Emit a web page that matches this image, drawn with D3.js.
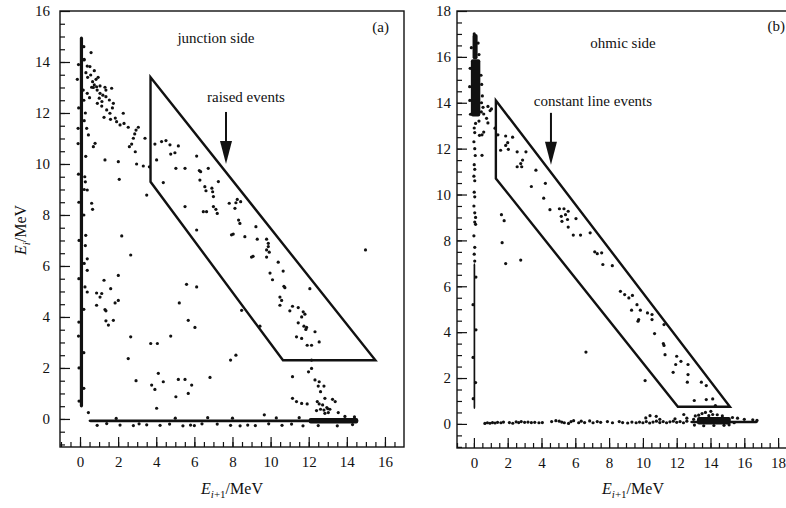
<!DOCTYPE html>
<html>
<head>
<meta charset="utf-8">
<script src="https://cdn.jsdelivr.net/npm/d3@7"></script>
<style>
  body { margin: 0; background: #fff; }
  svg text { font-family: "Liberation Serif", "Times New Roman", Times, serif; fill: #111; }
</style>
</head>
<body>
<script>
var width = 786;
var height = 508;

// ---- panel (a) data : junction side ----
var xTicksA = [0, 2, 4, 6, 8, 10, 12, 14, 16];
var yTicksA = [0, 2, 4, 6, 8, 10, 12, 14, 16];
// dense parts of the scatter (x0, x1, y0, y1)
var bandsA = [
  [-0.01, 0.16, 0.45, 15.0],
  [0.45, 14.6, -0.13, -0.02],
  [12.0, 14.6, -0.18, 0.04]
];
var pointsA = [
  [0.58,14.37],[0.21,14.08],[0.38,13.84],[0.52,13.82],[0.75,13.66],[0.31,13.58],[0.56,13.49],[0.40,13.40],
  [0.84,13.32],[0.66,13.23],[0.75,13.10],[0.87,13.03],[0.61,13.01],[0.17,12.90],[0.38,12.77],[1.05,13.06],
  [1.31,13.01],[1.05,12.77],[1.01,12.58],[0.91,12.38],[1.14,12.27],[1.36,12.90],[1.66,12.97],[1.36,12.64],
  [1.54,12.51],[1.75,12.38],[1.40,12.12],[1.57,11.99],[1.26,11.83],[1.92,11.66],[2.27,11.99],[2.10,11.53],
  [2.31,11.59],[2.53,11.44],[2.94,11.33],[3.06,11.44],[2.87,11.18],[2.80,11.01],[3.41,11.01],[2.59,10.68],
  [2.71,10.78],[2.90,10.48],[2.97,10.0],[3.32,9.92],[3.64,9.89],[2.01,10.09],[2.06,9.40],[1.31,10.16],
  [3.50,8.78],[0.79,10.81],[0.70,10.68],[0.44,11.14],[0.35,11.4],[0.38,8.98],[0.61,8.46],[0.66,8.22],
  [2.19,7.18],[2.66,6.43],[14.98,6.63],
  [0.95,13.4],[0.7,13.0],[0.9,12.9],[1.2,12.7],[1.15,12.45],[0.5,12.6],[1.7,12.2],[1.85,11.8],[1.6,11.75],
  [-0.14,13.32],[-0.1,11.4],[-0.1,10.8],[-0.08,3.25],[0.28,9.3],[0.25,9.5],[0.3,7.2],[0.28,6.8],[0.3,10.3],[0.28,12.0],
  [0.2,14.6],[0.22,14.1],[-0.08,13.9],[0.2,12.5],[-0.07,12.2],[0.22,11.7],[-0.08,9.6],[0.22,9.0],[-0.06,8.5],
  [0.2,8.0],[-0.05,7.0],[0.22,6.1],[-0.06,5.5],[0.2,4.3],[-0.06,3.8],[0.2,2.6],[-0.05,2.0],[0.2,1.2],[-0.05,0.7],
  [3.93,10.78],[4.28,10.88],[4.51,10.92],[4.72,10.75],[4.76,10.39],[4.98,10.44],[5.16,10.71],[4.02,10.16],
  [5.03,9.83],[5.51,9.83],[6.12,10.31],[6.26,9.74],[6.33,9.70],[6.73,9.83],[6.29,9.37],[7.26,9.31],
  [4.37,9.27],[6.55,9.11],[6.61,8.95],[6.92,9.05],[6.96,8.91],[7.0,8.72],[7.0,8.33],[5.51,8.33],
  [6.47,8.13],[6.64,8.13],[7.13,8.22],[7.2,8.06],[7.83,8.46],[8.18,8.48],[8.25,8.61],[8.43,8.52],
  [8.13,8.26],[8.32,7.80],[8.39,7.67],[6.12,7.41],[7.95,7.22],[8.04,7.25],[8.65,7.15],[9.23,7.54],
  [9.30,7.05],[9.79,7.05],[9.88,6.89],[9.88,6.76],[9.79,6.63],
  [0.44,0.25],[0.38,6.28],[0.38,5.83],[0.26,5.18],[0.38,4.98],[0.87,4.94],[1.05,4.78],[1.14,4.92],
  [0.87,4.46],[1.26,5.44],[1.31,4.29],[1.36,4.24],[1.36,3.85],[1.49,3.68],[1.61,5.11],[1.75,3.87],
  [1.84,4.55],[2.01,4.65],[2.01,5.63],[2.66,3.22],[2.53,2.37],[2.94,1.5],[3.71,2.96],[4.06,2.96],
  [3.76,1.33],[3.93,1.16],[4.11,1.79],[4.37,1.46],[4.02,0.42],[4.76,3.25],[5.03,0.87],[5.21,4.55],
  [5.16,1.55],[5.51,1.55],[5.59,5.28],[5.68,3.87],[5.68,1.0],[5.86,1.33],[6.03,3.59],[6.12,5.18],
  [6.82,1.63],[7.90,2.31],[8.18,2.50],[8.48,4.26],[9.44,3.64],[9.0,6.35],[9.08,6.38],[9.79,6.35],
  [9.93,6.54],[10.40,6.15],[9.97,5.72],[10.10,5.46],[10.66,5.80],[10.70,5.20],[10.75,5.15],[10.49,4.78],
  [10.58,4.65],[10.49,4.46],[11.01,4.24],[11.15,4.42],[11.45,4.37],[11.71,4.20],[11.80,4.11],[11.45,3.77],
  [11.63,4.00],[11.75,3.64],[11.89,3.59],[11.85,3.51],[11.36,3.22],[11.63,3.16],[11.92,2.89],[12.15,2.89],
  [12.33,3.42],[12.55,3.02],[12.06,5.11],
  [12.15,2.31],[11.99,1.85],[12.15,1.98],[11.15,1.66],[12.33,1.53],[12.55,1.46],[12.50,1.29],[12.80,1.29],
  [12.62,1.07],[11.15,0.81],[11.36,0.68],[11.63,0.61],[11.92,0.59],[12.45,0.68],[12.55,0.59],[12.73,0.55],
  [12.85,0.81],[13.25,0.77],[13.39,0.68],[12.41,0.33],[12.62,0.38],[12.80,0.35],[13.11,0.38],[13.03,0.25],
  [12.85,0.22],[13.55,0.25],[9.67,0.16],[12.95,0.45],[13.0,0.4],[6.7,0.05],[14.4,0.08],
  [0.9,-0.25],[2.1,-0.24],[2.8,-0.26],[3.5,-0.23],[4.2,-0.25],[5.4,-0.27],[5.8,-0.24],[6.0,-0.26],
  [7.9,-0.25],[8.4,-0.27],[8.8,-0.24],[9.2,-0.26],[10.6,-0.25],[11.7,-0.27],[12.5,-0.26],[13.5,-0.27],
  [1.4,-0.18],[3.1,-0.19],[4.7,-0.2],[6.4,-0.19],[7.2,-0.2],[9.9,-0.19],[11.1,-0.2],[1.9,0.02],
  [5.0,0.03],[8.0,0.03],[10.3,0.04],[11.5,0.05],[13.9,0.1],[14.3,-0.22]
];
var boxA = [[3.7, 13.4], [15.5, 2.3], [10.65, 2.3], [3.7, 9.3]];
var arrowA = {x: 7.66, y0: 12.04, y1: 10.0};

// ---- panel (b) data : ohmic side ----
var xTicksB = [0, 2, 4, 6, 8, 10, 12, 14, 16, 18];
var yTicksB = [0, 2, 4, 6, 8, 10, 12, 14, 16, 18];
var bandsB = [
  [-0.18, 0.38, 13.4, 15.9],
  [-0.08, 0.22, 15.9, 17.0],
  [-0.02, 0.08, 0.65, 7.0],
  [12.8, 16.8, 0.03, 0.14],
  [13.2, 15.2, -0.03, 0.3]
];
var pointsB = [
  [0.54,13.8],[0.83,13.84],[1.04,13.73],[0.96,13.66],[0.58,13.51],[0.75,13.32],[0.83,13.12],[1.25,12.89],
  [0.58,12.72],[0.33,12.58],[0.48,12.6],[0.48,11.71],[1.42,12.6],[1.88,12.55],[2.29,12.50],[1.58,11.93],
  [2.04,11.97],[2.0,12.26],[1.88,12.14],[2.56,11.86],[2.56,11.21],[2.77,11.35],[2.88,11.50],[2.83,11.21],
  [3.08,11.86],[3.67,11.06],[3.40,10.35],[4.23,10.49],[4.13,9.84],[4.5,9.34],[5.06,9.38],[5.33,9.38],
  [5.58,9.27],[5.17,9.05],[5.42,9.12],[5.21,8.83],[5.54,8.91],[6.04,8.95],[5.58,8.58],[5.88,8.23],
  [6.31,8.23],[6.88,8.33],[1.63,9.12],[1.79,8.86],[1.67,7.9],[1.88,6.99],[2.77,7.14],
  [7.15,7.5],[7.3,7.42],[7.56,7.46],[7.63,6.95],[8.19,6.9],[8.67,5.78],[8.92,5.64],[9.17,5.49],
  [9.38,5.6],[9.33,4.96],[9.85,4.96],[9.65,5.2],[9.75,4.55],[9.71,4.48],[10.27,4.84],[10.54,4.77],
  [10.54,4.55],[10.69,3.94],[11.25,4.33],[11.21,3.5],[11.25,3.42],[11.31,3.02],[12.0,2.95],[12.25,2.73],
  [11.79,2.25],[11.94,2.59],[12.67,2.59],[12.67,2.15],[12.63,1.82],[13.46,1.82],[13.75,1.67],[13.04,1.02],
  [13.75,1.06],[14.13,1.09],[14.29,0.8],[14.02,0.55],[14.13,0.41],[6.63,3.13],[10.13,1.89],[10.17,0.26],
  [10.42,0.36],[10.79,0.33],[12.42,0.41],
  [0.45,14.0],[0.5,14.3],[0.46,14.8],[0.42,15.2],[-0.25,14.7],[-0.22,15.5],[0.3,13.2],[0.1,13.1],
  [-0.24,14.1],[0.44,13.6],[-0.2,13.5],[0.3,16.1],[-0.15,16.4],[0.25,16.6],[0.02,17.0],
  [0.02,12.9],[0.05,12.7],[0.0,12.3],[0.05,12.0],[0.08,11.7],[0.02,11.3],[0.05,11.1],[0.0,10.8],
  [0.05,10.6],[0.02,10.1],[0.05,9.9],[0.0,9.5],[0.05,9.2],[0.1,9.0],[0.05,8.8],[0.1,8.7],
  [0.0,8.2],[0.05,7.7],[0.02,7.4],[0.05,7.1],[0.12,6.4],[-0.05,5.2],[0.12,4.1],[-0.05,2.9],[0.1,1.8],[-0.04,1.1],
  [0.65,0.02],[0.8,0.05],[0.95,0.03],[1.1,0.06],[1.25,0.04],[1.4,0.07],[1.6,0.05],[1.75,0.08],
  [2.1,0.06],[2.3,0.03],[2.5,0.09],[2.65,0.06],[2.8,0.1],[3.0,0.07],[3.2,0.08],[3.4,0.06],
  [3.6,0.07],[3.85,0.05],[4.05,0.06],[4.6,0.1],[4.85,0.14],[5.05,0.12],[5.2,0.08],[5.35,0.05],
  [5.6,0.02],[5.75,0.1],[5.9,0.14],[6.2,0.05],[6.35,0.12],[6.55,0.06],[6.85,0.13],[7.05,0.05],
  [7.3,0.1],[7.5,0.07],[7.9,0.1],[8.2,0.05],[8.6,0.1],[8.8,0.06],[9.1,0.04],[9.35,0.08],[9.6,0.05],
  [9.8,0.08],[10.0,0.05],[10.2,0.1],[10.4,0.04],[10.6,0.08],[10.8,0.12],[11.0,0.06],[11.2,0.1],
  [11.4,0.05],[11.6,0.09],[11.8,0.12],[12.0,0.07],[12.2,0.1],[12.4,0.05],[12.6,0.12],
  [13.5,0.45],[13.7,0.5],[14.4,0.4],[12.6,0.25],[11.9,0.22],[11.0,0.2],[15.6,0.25],[16.0,0.2],
  [16.5,0.18],[16.75,0.15],[13.0,0.2],[13.1,0.35],[13.3,0.38],[13.9,0.36],[14.7,0.35],[15.3,0.28],
  [15.4,0.05],[13.05,-0.05],[13.6,-0.08],[14.2,-0.07],[14.8,-0.06],[15.1,-0.04]
];
var boxB = [[1.3, 14.1], [15.15, 0.75], [12.07, 0.75], [1.3, 10.7]];
var arrowB = {x: 4.56, y0: 13.56, y1: 11.3};

var svg = d3.select('body').append('svg')
  .attr('width', width)
  .attr('height', height)
  .attr('font-family', '"Liberation Serif", serif');

var drawPanel = function(p) {
  var x = d3.scaleLinear().domain(p.xDomain).range([p.left, p.right]);
  var y = d3.scaleLinear().domain(p.yDomain).range([p.bottom, p.top]);
  var g = svg.append('g');

  // frame
  g.append('rect')
    .attr('x', p.left).attr('y', p.top)
    .attr('width', p.right - p.left).attr('height', p.bottom - p.top)
    .attr('fill', 'none').attr('stroke', '#111').attr('stroke-width', 1.4);

  // minor ticks every 0.5
  var xMinor = d3.range(Math.ceil(p.xDomain[0] * 2) / 2, p.xDomain[1], 0.5);
  var yMinor = d3.range(Math.ceil(p.yDomain[0] * 2) / 2, p.yDomain[1], 0.5);
  g.append('g').attr('transform', 'translate(0,' + p.bottom + ')')
    .call(d3.axisBottom(x).tickValues(xMinor).tickSize(-5).tickFormat(''));
  g.append('g').attr('transform', 'translate(' + p.left + ',0)')
    .call(d3.axisLeft(y).tickValues(yMinor).tickSize(-5).tickFormat(''));

  // major ticks
  g.append('g').attr('transform', 'translate(0,' + p.bottom + ')')
    .call(d3.axisBottom(x).tickValues(p.xTicks).tickSize(-10).tickPadding(9).tickFormat(d3.format('d')));
  g.append('g').attr('transform', 'translate(' + p.left + ',0)')
    .call(d3.axisLeft(y).tickValues(p.yTicks).tickSize(-10).tickPadding(p.yPad).tickFormat(d3.format('d')));

  g.selectAll('.domain').remove();
  g.selectAll('g').attr('font-family', '"Liberation Serif", serif');
  g.selectAll('.tick line').attr('stroke', '#111').attr('stroke-width', 1.2);
  g.selectAll('.tick text')
    .style('font-size', '15px').attr('fill', '#222');

  // dense bands
  g.selectAll('rect.band').data(p.bands).enter().append('rect')
    .attr('class', 'band')
    .attr('x', function(d) { return x(d[0]); })
    .attr('width', function(d) { return x(d[1]) - x(d[0]); })
    .attr('y', function(d) { return y(d[3]); })
    .attr('height', function(d) { return y(d[2]) - y(d[3]); })
    .attr('rx', 2)
    .attr('fill', '#111');

  // scatter points
  g.selectAll('circle').data(p.points).enter().append('circle')
    .attr('cx', function(d) { return x(d[0]); })
    .attr('cy', function(d) { return y(d[1]); })
    .attr('r', 1.6)
    .attr('fill', '#111');

  // selection box
  g.append('path')
    .datum(p.box)
    .attr('d', d3.line().x(function(d) { return x(d[0]); }).y(function(d) { return y(d[1]); }).curve(d3.curveLinearClosed))
    .attr('fill', 'none').attr('stroke', '#111').attr('stroke-width', 2.4)
    .attr('stroke-linejoin', 'miter');

  // arrow
  var ax = x(p.arrow.x), ay0 = y(p.arrow.y0), ay1 = y(p.arrow.y1);
  g.append('line')
    .attr('x1', ax).attr('x2', ax).attr('y1', ay0).attr('y2', ay1 - 20)
    .attr('stroke', '#111').attr('stroke-width', 2);
  g.append('path')
    .attr('d', 'M' + (ax - 6) + ',' + (ay1 - 23) + 'L' + (ax + 6) + ',' + (ay1 - 23) + 'L' + ax + ',' + ay1 + 'Z')
    .attr('fill', '#111');

  // texts
  g.append('text').attr('x', p.sideX).attr('y', p.sideY).attr('text-anchor', 'middle')
    .style('font-size', '15px').text(p.side);
  g.append('text').attr('x', p.tagX).attr('y', p.tagY).attr('text-anchor', 'end')
    .style('font-size', '15px').text(p.tag);
  g.append('text').attr('x', ax + p.noteDx).attr('y', p.noteY).attr('text-anchor', 'middle')
    .style('font-size', '15px').text(p.note);

  // x label  E_{i+1}/MeV
  var xl = g.append('text').attr('x', (p.left + p.right) / 2 + p.xLabelDx).attr('y', 494)
    .attr('text-anchor', 'middle').style('font-size', '16px');
  xl.append('tspan').style('font-style', 'italic').text('E');
  xl.append('tspan').attr('dy', 4).style('font-size', '11px').style('font-style', 'italic').text('i');
  xl.append('tspan').style('font-size', '11px').text('+1');
  xl.append('tspan').attr('dy', -4).text('/MeV');
};

drawPanel({
  left: 60, right: 404, top: 11, bottom: 447,
  xDomain: [-1.05, 17], yDomain: [-1.1, 16],
  xTicks: xTicksA, yTicks: yTicksA, yPad: 10,
  bands: bandsA, points: pointsA, box: boxA, arrow: arrowA,
  side: 'junction side', sideX: 216, sideY: 43,
  tag: '(a)', tagX: 389, tagY: 32,
  note: 'raised events', noteDx: 20, noteY: 102,
  xLabelDx: 0
});

drawPanel({
  left: 457, right: 795, top: 11, bottom: 448,
  xDomain: [-1, 19], yDomain: [-1.05, 18],
  xTicks: xTicksB, yTicks: yTicksB, yPad: 6,
  bands: bandsB, points: pointsB, box: boxB, arrow: arrowB,
  side: 'ohmic side', sideX: 623, sideY: 48,
  tag: '(b)', tagX: 785, tagY: 31,
  note: 'constant line events', noteDx: 42, noteY: 106,
  xLabelDx: 7
});

// y label  E_i/MeV (left panel only)
var yl = svg.append('text')
  .attr('transform', 'translate(26,230) rotate(-90)')
  .attr('text-anchor', 'middle').style('font-size', '16px');
yl.append('tspan').style('font-style', 'italic').text('E');
yl.append('tspan').attr('dy', 4).style('font-size', '11px').style('font-style', 'italic').text('i');
yl.append('tspan').attr('dy', -4).text('/MeV');
</script>
</body>
</html>
